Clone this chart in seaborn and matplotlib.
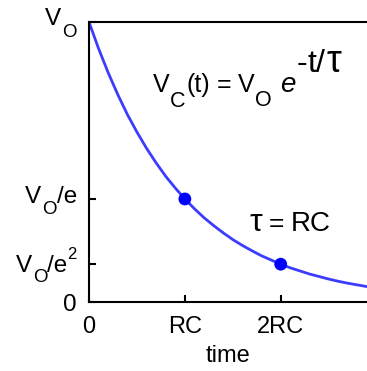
import matplotlib
matplotlib.use('Agg')
import seaborn as sns
from matplotlib import pyplot as plt

# capacitor discharge curve, time in units of RC, voltage in units of V_O
t_rc = [0.0, 0.1, 0.2, 0.3, 0.4, 0.5, 0.6, 0.7, 0.8, 0.9,
        1.0, 1.1, 1.2, 1.3, 1.4, 1.5, 1.6, 1.7, 1.8, 1.9,
        2.0, 2.1, 2.2, 2.3, 2.4, 2.5, 2.6, 2.7, 2.8, 2.9, 3.0]
v_frac = [1.000, 0.905, 0.819, 0.741, 0.670, 0.607, 0.549, 0.497, 0.449, 0.407,
          0.368, 0.333, 0.301, 0.273, 0.247, 0.223, 0.202, 0.183, 0.165, 0.150,
          0.135, 0.122, 0.111, 0.100, 0.091, 0.082, 0.074, 0.067, 0.061, 0.055, 0.050]

# marked points at t = RC and 2RC
pt_t = [1.0, 2.0]
pt_v = [0.368, 0.135]

x_ticks = [0, 1, 2]
x_labels = ['0', 'RC', '2RC']
y_ticks = [0, 0.135, 0.368, 1.0]

W, H = 367, 371

sns.set_style('ticks')
plt.rcParams['font.family'] = ['Liberation Sans', 'DejaVu Sans']
plt.rcParams['text.color'] = 'black'

fig = plt.figure(figsize=(W / 100, H / 100), dpi=100)
ax = fig.add_axes([89 / W, 1 - 302 / H, 1 - 89 / W, 280 / H])

sns.lineplot(x=t_rc, y=v_frac, ax=ax, color='#3c3cff', linewidth=2.0)
sns.scatterplot(x=pt_t, y=pt_v, ax=ax, color='#0000ff', s=85, edgecolor='none', zorder=3)

ax.set_xlim(0, 2.9)
ax.set_ylim(0, 1.0)
ax.set_xticks(x_ticks)
ax.set_xticklabels(x_labels)
ax.set_yticks(y_ticks)
ax.set_yticklabels([''] * len(y_ticks))
ax.tick_params(direction='in', length=5, width=1.5, labelsize=17, pad=10,
               colors='black', labelcolor='black')
ax.set_xlabel('time', fontsize=17, color='black', labelpad=5)

for side in ['left', 'bottom', 'top']:
    ax.spines[side].set_linewidth(1.5)
    ax.spines[side].set_color('black')
ax.spines['right'].set_visible(False)

renderer = fig.canvas.get_renderer()


def chain(x0, y0, pieces, align='left'):
    # pieces: text, size, style, baseline shift px (down +), gap px before it
    texts = []
    widths = []
    for s, size, style, dy, gap in pieces:
        t = fig.text(0, 0, s, fontsize=size, style=style,
                     ha='left', va='baseline', color='black')
        texts.append(t)
        widths.append(t.get_window_extent(renderer).width)
    total = sum(widths) + sum(p[4] for p in pieces)
    x = x0 - total if align == 'right' else x0
    for t, w, p in zip(texts, widths, pieces):
        x += p[4]
        t.set_position((x / W, 1 - (y0 + p[3]) / H))
        x += w


# y tick labels with full-size subscripts, right edge 12px left of the axis
chain(77, 25, [('V', 17.5, 'normal', 0, 0), ('O', 13.5, 'normal', 12, 1)], 'right')
chain(77, 203, [('V', 17.5, 'normal', 0, 0), ('O', 13.5, 'normal', 11, 1),
                ('/e', 17.5, 'normal', 0, 0)], 'right')
chain(77, 272, [('V', 17.5, 'normal', 0, 0), ('O', 13.5, 'normal', 10, 1),
                ('/e', 17.5, 'normal', 0, 0), ('2', 12, 'normal', -13, 0)], 'right')
chain(77, 311, [('0', 17.5, 'normal', 0, 0)], 'right')

# V_C(t) = V_O e^(-t/tau)
chain(153, 92, [
    ('V', 18, 'normal', 0, 0), ('C', 15.5, 'normal', 15, 0),
    ('(t)', 18, 'normal', 0, 1), ('=', 18, 'normal', 0, 7),
    ('V', 18, 'normal', 0, 7), ('O', 15.5, 'normal', 14, 0),
    ('e', 20, 'italic', 0, 8),
    ('-', 23, 'normal', -20, 2), ('t', 23, 'normal', -20, 0),
    ('/', 23, 'normal', -20, 0), ('τ', 27, 'normal', -20, 1),
])

# tau = RC
chain(249, 231, [('τ', 23, 'normal', 0, 0), ('=', 19, 'normal', 0, 7),
                 ('RC', 20, 'normal', 0, 7)])

fig.savefig('out.png', dpi=100)
